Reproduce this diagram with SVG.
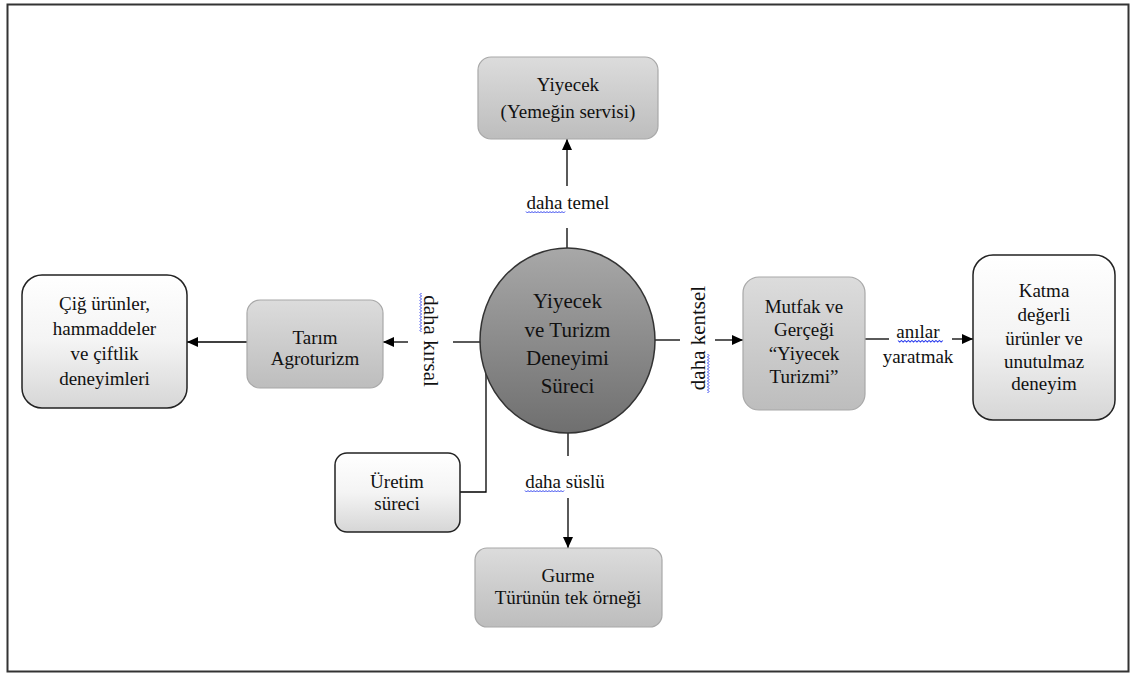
<svg xmlns="http://www.w3.org/2000/svg" width="1131" height="673" viewBox="0 0 1131 673">
<style>
text{font-family:"Liberation Serif","Times New Roman",serif;font-size:19px;fill:#111;text-anchor:middle}
.big{font-size:21px}
.rot{font-size:21px}
.gray{fill:url(#gGray);stroke:#a8a8a8;stroke-width:1.2}
.white{fill:url(#gWhite);stroke:#222;stroke-width:1.5}
.conn{stroke:#000;stroke-width:1.3;fill:none}
.arr{marker-end:url(#ah)}
.sq{stroke:#3344ee;stroke-width:1;fill:none}
</style>
<defs>
<linearGradient id="gGray" x1="0" y1="0" x2="0" y2="1">
<stop offset="0" stop-color="#dcdcdc"/><stop offset="1" stop-color="#bdbdbd"/>
</linearGradient>
<linearGradient id="gWhite" x1="0" y1="0" x2="0" y2="1">
<stop offset="0" stop-color="#ffffff"/><stop offset="0.5" stop-color="#f4f4f4"/><stop offset="1" stop-color="#d6d6d6"/>
</linearGradient>
<linearGradient id="gCircle" x1="0" y1="0" x2="0" y2="1">
<stop offset="0" stop-color="#a8a8a8"/><stop offset="1" stop-color="#6f6f6f"/>
</linearGradient>
<marker id="ah" markerUnits="userSpaceOnUse" markerWidth="12" markerHeight="10" refX="11" refY="5" orient="auto">
<path d="M0,0 L11,5 L0,10 z" fill="#000"/>
</marker>
<path id="sq" d="M0,0 l1.5,1.5 l1.5,-1.5 l1.5,1.5 l1.5,-1.5 l1.5,1.5 l1.5,-1.5 l1.5,1.5 l1.5,-1.5 l1.5,1.5 l1.5,-1.5 l1.5,1.5 l1.5,-1.5 l1.5,1.5 l1.5,-1.5 l1.5,1.5 l1.5,-1.5 l1.5,1.5 l1.5,-1.5 l1.5,1.5 l1.5,-1.5 l1.5,1.5 l1.5,-1.5 l1.5,1.5 l1.5,-1.5 l1.5,1.5 l1.5,-1.5"/>
</defs>

<rect x="7.5" y="4.5" width="1121" height="667" fill="#fff" stroke="#333" stroke-width="2"/>

<g id="connectors">
<line class="conn arr" x1="567" y1="186" x2="567" y2="139"/>
<line class="conn" x1="567" y1="228" x2="567" y2="252"/>
<line class="conn" x1="482" y1="342" x2="453" y2="342"/>
<line class="conn arr" x1="408" y1="342" x2="383" y2="342"/>
<line class="conn arr" x1="247" y1="342" x2="187" y2="342"/>
<line class="conn" x1="653" y1="340" x2="680" y2="340"/>
<line class="conn arr" x1="715" y1="340" x2="743" y2="340"/>
<line class="conn" x1="865" y1="339" x2="889" y2="339"/>
<line class="conn arr" x1="952" y1="339" x2="973" y2="339"/>
<line class="conn" x1="568" y1="430" x2="568" y2="456"/>
<line class="conn arr" x1="568" y1="498" x2="568" y2="548"/>
<polyline class="conn" points="460,492 486,492 486,365"/>
</g>

<g id="labels">
<text x="568" y="209">daha temel</text>
<use href="#sq" class="sq" transform="translate(526,211.5)"/>
<text x="565" y="488">daha süslü</text>
<use href="#sq" class="sq" transform="translate(525,490.5)"/>
<text class="rot" transform="translate(424,341) rotate(90)" x="0" y="0">daha kırsal</text>
<use href="#sq" class="sq" transform="translate(421.5,293) rotate(90)"/>
<text class="rot" transform="translate(705,338) rotate(-90)" x="0" y="0">daha kentsel</text>
<use href="#sq" class="sq" transform="translate(707.5,393) rotate(-90)"/>
<text x="918" y="338">anılar</text>
<use href="#sq" class="sq" transform="translate(898,340.5) scale(1.15,1)"/>
<text x="918" y="363">yaratmak</text>
</g>

<g id="node-center">
<ellipse cx="567.5" cy="340.5" rx="87.5" ry="92.5" fill="url(#gCircle)" stroke="#333" stroke-width="1.5"/>
<text class="big" x="567.5" y="308">Yiyecek</text>
<text class="big" x="567.5" y="337">ve Turizm</text>
<text class="big" x="567.5" y="365">Deneyimi</text>
<text class="big" x="567.5" y="393">Süreci</text>
</g>

<g id="node-yiyecek">
<rect class="gray" x="478" y="57" width="180" height="82" rx="13"/>
<text x="568" y="91">Yiyecek</text>
<text x="568" y="118">(Yemeğin servisi)</text>
</g>

<g id="node-tarim">
<rect class="gray" x="247" y="300" width="136" height="88" rx="13"/>
<text x="315" y="344">Tarım</text>
<text x="315" y="365">Agroturizm</text>
</g>

<g id="node-cig">
<rect class="white" x="22" y="275" width="165" height="133" rx="20"/>
<text x="104.5" y="310">Çiğ ürünler,</text>
<text x="104.5" y="335">hammaddeler</text>
<text x="104.5" y="360">ve çiftlik</text>
<text x="104.5" y="385">deneyimleri</text>
</g>

<g id="node-mutfak">
<rect class="gray" x="743" y="277" width="122" height="133" rx="16"/>
<text x="804" y="313">Mutfak ve</text>
<text x="804" y="336">Gerçeği</text>
<text x="804" y="360">“Yiyecek</text>
<text x="804" y="383">Turizmi”</text>
</g>

<g id="node-katma">
<rect class="white" x="973" y="255" width="142" height="165" rx="20"/>
<text x="1044" y="297">Katma</text>
<text x="1044" y="321">değerli</text>
<text x="1044" y="345">ürünler ve</text>
<text x="1044" y="368">unutulmaz</text>
<text x="1044" y="390">deneyim</text>
</g>

<g id="node-gurme">
<rect class="gray" x="475" y="548" width="187" height="79" rx="12"/>
<text x="568" y="582">Gurme</text>
<text x="568" y="604">Türünün tek örneği</text>
</g>

<g id="node-uretim">
<rect class="white" x="335" y="453" width="125" height="79" rx="12"/>
<text x="397" y="488">Üretim</text>
<text x="397" y="510">süreci</text>
</g>
</svg>
